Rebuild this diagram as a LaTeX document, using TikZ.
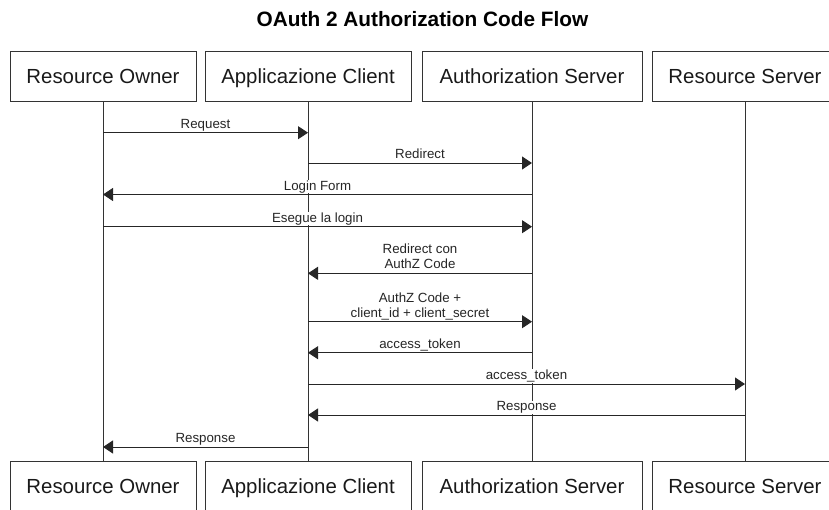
\documentclass[tikz,border=0pt]{standalone}
\usepackage{fontspec}
\setmainfont{Liberation Sans}
\usetikzlibrary{arrows.meta}
\begin{document}
\begin{tikzpicture}[x=1pt,y=-1pt,
  actor/.style={draw=black!80, line width=0.9pt, rectangle, minimum height=50pt,
    inner sep=0pt, font=\fontsize{20.4}{24}\selectfont, text=black!90,
    text height=14.6pt, text depth=0pt},
  life/.style={draw=black!80, line width=0.9pt},
  msg/.style={draw=black!85, line width=0.9pt, -{Triangle[length=10pt,width=13pt]}},
  lbl/.style={font=\fontsize{13.3}{15}\selectfont, text=black!85, fill=white,
    inner sep=0.5pt, align=center, anchor=south, text depth=2.5pt}
]
\useasboundingbox (0,0) rectangle (829,509);
\clip (0,0) rectangle (829,509);

% title
\node[font=\bfseries\fontsize{20.8}{24}\selectfont, anchor=base] (title) at (422.5,26.5)
  {OAuth 2 Authorization Code Flow};

% participants, top row
\node[actor, minimum width=186pt] (ro) at (103,76) {Resource Owner};
\node[actor, minimum width=206pt] (ac) at (308,76) {Applicazione Client};
\node[actor, minimum width=220pt] (as) at (532,76) {Authorization Server};
\node[actor, minimum width=186pt] (rs) at (745,76) {Resource Server};

% participants, bottom row
\node[actor, minimum width=186pt] (ro2) at (103,486) {Resource Owner};
\node[actor, minimum width=206pt] (ac2) at (308,486) {Applicazione Client};
\node[actor, minimum width=220pt] (as2) at (532,486) {Authorization Server};
\node[actor, minimum width=186pt] (rs2) at (745,486) {Resource Server};

% lifelines
\draw[life] (ro.south) -- (ro2.north);
\draw[life] (ac.south) -- (ac2.north);
\draw[life] (as.south) -- (as2.north);
\draw[life] (rs.south) -- (rs2.north);

% messages
\draw[msg] (ro |- 0,132.7) -- node[lbl, pos=0.5, yshift=1pt] {Request} (ac |- 0,132.7);
\draw[msg] (ac |- 0,163) -- node[lbl, yshift=1pt] {Redirect} (as |- 0,163);
\draw[msg] (as |- 0,194.5) -- node[lbl, yshift=1pt] {Login Form} (ro |- 0,194.5);
\draw[msg] (ro |- 0,226.7) -- node[lbl, yshift=1pt] {Esegue la login} (as |- 0,226.7);
\draw[msg] (as |- 0,273.3) -- node[lbl, yshift=1pt] {Redirect con\\AuthZ Code} (ac |- 0,273.3);
\draw[msg] (ac |- 0,321.7) -- node[lbl, yshift=1pt] {AuthZ Code +\\client\_id + client\_secret} (as |- 0,321.7);
\draw[msg] (as |- 0,352.7) -- node[lbl, yshift=1pt] {access\_token} (ac |- 0,352.7);
\draw[msg] (ac |- 0,384) -- node[lbl, yshift=1pt] {access\_token} (rs |- 0,384);
\draw[msg] (rs |- 0,415) -- node[lbl, yshift=1pt] {Response} (ac |- 0,415);
\draw[msg] (ac |- 0,447) -- node[lbl, yshift=1pt] {Response} (ro |- 0,447);
\end{tikzpicture}
\end{document}
